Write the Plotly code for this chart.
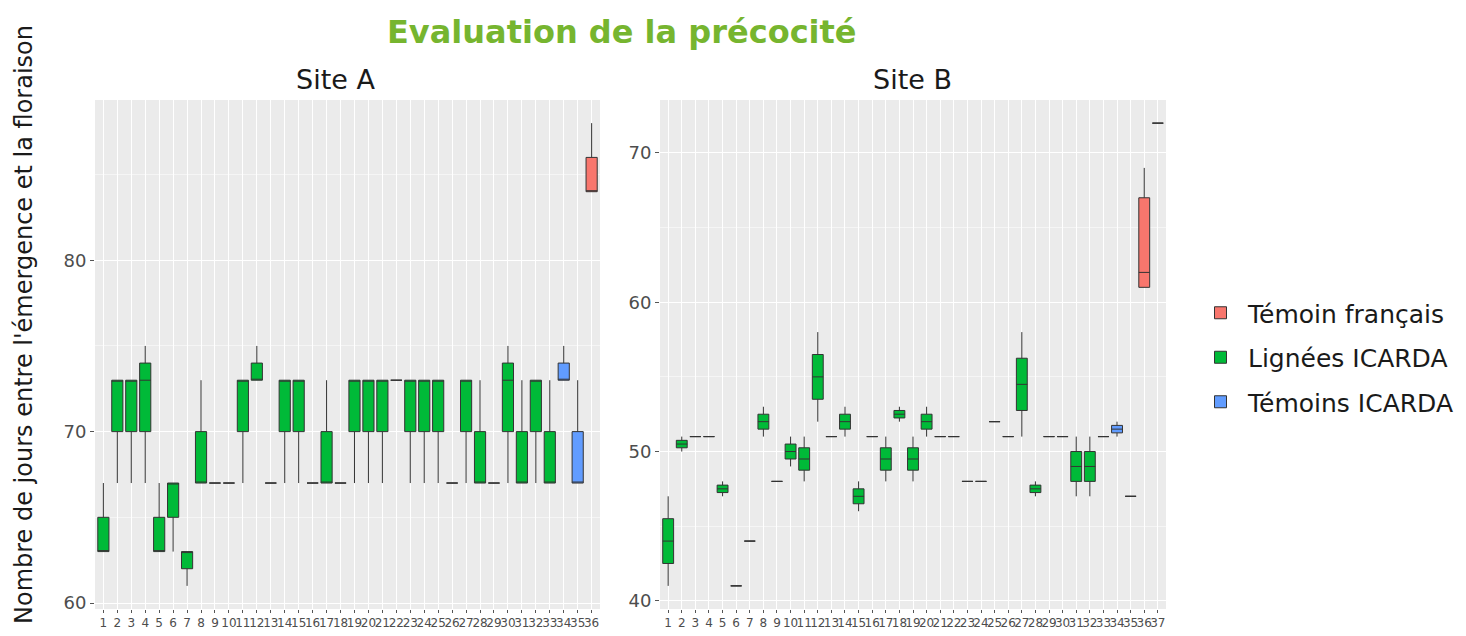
import plotly.graph_objects as go

# ---------------- data ----------------
groups = ["Témoin français", "Lignées ICARDA", "Témoins ICARDA"]
group_colors = {"Témoin français": "#F8766D", "Lignées ICARDA": "#00BA38", "Témoins ICARDA": "#619CFF"}

# Site A (36 lines)
siteA_x = list(range(1, 37))
siteA_group = ["Lignées ICARDA"] * 33 + ["Témoins ICARDA", "Témoins ICARDA", "Témoin français"]
siteA_q1 = [63, 70, 70, 70, 63, 65, 62, 67, 67, 67, 70, 73, 67, 70, 70, 67, 67, 67,
            70, 70, 70, 73, 70, 70, 70, 67, 70, 67, 67, 70, 67, 70, 67, 73, 67, 84]
siteA_med = [63, 73, 73, 73, 63, 67, 63, 67, 67, 67, 73, 73, 67, 73, 73, 67, 67, 67,
             73, 73, 73, 73, 73, 73, 73, 67, 73, 67, 67, 73, 67, 73, 67, 73, 67, 84]
siteA_q3 = [65, 73, 73, 74, 65, 67, 63, 70, 67, 67, 73, 74, 67, 73, 73, 67, 70, 67,
            73, 73, 73, 73, 73, 73, 73, 67, 73, 70, 67, 74, 70, 73, 70, 74, 70, 86]
siteA_lo = [63, 67, 67, 67, 63, 63, 61, 67, 67, 67, 67, 73, 67, 67, 67, 67, 67, 67,
            67, 67, 67, 73, 67, 67, 67, 67, 67, 67, 67, 67, 67, 67, 67, 73, 67, 84]
siteA_hi = [67, 73, 73, 75, 67, 67, 63, 73, 67, 67, 73, 75, 67, 73, 73, 67, 73, 67,
            73, 73, 73, 73, 73, 73, 73, 67, 73, 73, 67, 75, 73, 73, 73, 75, 73, 88]

# Site B (37 lines)
siteB_x = list(range(1, 38))
siteB_group = ["Lignées ICARDA"] * 33 + ["Témoins ICARDA", "Témoins ICARDA", "Témoin français", "Témoin français"]
siteB_q1 = [42.5, 50.25, 51, 51, 47.25, 41, 44, 51.5, 48, 49.5, 48.75, 53.5, 51, 51.5, 46.5, 51, 48.75, 52.25,
            48.75, 51.5, 51, 51, 48, 48, 52, 51, 52.75, 47.25, 51, 51, 48, 48, 51, 51.25, 47, 61, 72]
siteB_med = [44, 50.5, 51, 51, 47.5, 41, 44, 52, 48, 50, 49.5, 55, 51, 52, 47, 51, 49.5, 52.5,
             49.5, 52, 51, 51, 48, 48, 52, 51, 54.5, 47.5, 51, 51, 49, 49, 51, 51.5, 47, 62, 72]
siteB_q3 = [45.5, 50.75, 51, 51, 47.75, 41, 44, 52.5, 48, 50.5, 50.25, 56.5, 51, 52.5, 47.5, 51, 50.25, 52.75,
            50.25, 52.5, 51, 51, 48, 48, 52, 51, 56.25, 47.75, 51, 51, 50, 50, 51, 51.75, 47, 67, 72]
siteB_lo = [41, 50, 51, 51, 47, 41, 44, 51, 48, 49, 48, 52, 51, 51, 46, 51, 48, 52,
            48, 51, 51, 51, 48, 48, 52, 51, 51, 47, 51, 51, 47, 47, 51, 51, 47, 61, 72]
siteB_hi = [47, 51, 51, 51, 48, 41, 44, 53, 48, 51, 51, 58, 51, 53, 48, 51, 51, 53,
            51, 53, 51, 51, 48, 48, 52, 51, 58, 48, 51, 51, 51, 51, 51, 52, 47, 69, 72]

siteA_yticks = [60, 70, 80]
siteA_yminor = [65, 75, 85]
siteB_yticks = [40, 50, 60, 70]
siteB_yminor = [45, 55, 65]

# ---------------- figure ----------------
fig = go.Figure()
W, H = 1466, 636
OFF = 8  # page body margin


def px(x):
    return (x - OFF) / W


def py(y):
    return 1 - (y - OFF) / H


def add_site(xs, grp, q1, med, q3, lo, hi, xaxis, yaxis, show):
    for g in groups:
        idx = [i for i, gg in enumerate(grp) if gg == g]
        if not idx:
            continue
        fig.add_trace(go.Box(
            x=[xs[i] for i in idx],
            q1=[q1[i] for i in idx],
            median=[med[i] for i in idx],
            q3=[q3[i] for i in idx],
            lowerfence=[lo[i] for i in idx],
            upperfence=[hi[i] for i in idx],
            name=g,
            legendgroup=g,
            showlegend=show,
            fillcolor=group_colors[g],
            line=dict(color="#333333", width=1),
            whiskerwidth=0,
            width=0.8,
            boxpoints=False,
            xaxis=xaxis, yaxis=yaxis,
        ))


add_site(siteA_x, siteA_group, siteA_q1, siteA_med, siteA_q3, siteA_lo, siteA_hi, "x", "y", True)
add_site(siteB_x, siteB_group, siteB_q1, siteB_med, siteB_q3, siteB_lo, siteB_hi, "x2", "y2", False)

ydom = [py(609), py(100)]
common_x = dict(showgrid=True, gridcolor="white", gridwidth=1, zeroline=False,
                ticks="outside", ticklen=3, tickcolor="#555555", tickwidth=1, tickangle=0,
                tickfont=dict(family="DejaVu Sans", size=12, color="#4D4D4D"),
                automargin=False, showline=False, fixedrange=True)
common_y = dict(showgrid=True, gridcolor="white", gridwidth=1.2, zeroline=False,
                ticks="outside", ticklen=4, tickcolor="#555555", tickwidth=1,
                tickfont=dict(family="DejaVu Sans", size=18, color="#4D4D4D"),
                automargin=False, showline=False, domain=ydom)

fig.update_layout(
    width=W, height=H,
    margin=dict(l=0, r=0, t=0, b=0),
    paper_bgcolor="white",
    plot_bgcolor="#EBEBEB",
    boxmode="overlay",
    xaxis=dict(domain=[px(95), px(600)], range=[0.4, 36.6], tickmode="array",
               tickvals=siteA_x, ticktext=[str(v) for v in siteA_x], anchor="y", **common_x),
    xaxis2=dict(domain=[px(660), px(1166)], range=[0.4, 37.6], tickmode="array",
                tickvals=siteB_x, ticktext=[str(v) for v in siteB_x], anchor="y2", **common_x),
    yaxis=dict(range=[59.65, 89.35], tickmode="array", tickvals=siteA_yticks, anchor="x",
               minor=dict(tickvals=siteA_yminor, showgrid=True, gridcolor="#F5F5F5", gridwidth=0.6, ticks=""),
               **common_y),
    yaxis2=dict(range=[39.45, 73.55], tickmode="array", tickvals=siteB_yticks, anchor="x2",
                minor=dict(tickvals=siteB_yminor, showgrid=True, gridcolor="#F5F5F5", gridwidth=0.6, ticks=""),
                **common_y),
    legend=dict(x=px(1193), y=py(290), xanchor="left", yanchor="top",
                font=dict(family="DejaVu Sans", size=25, color="#1A1A1A"),
                bgcolor="white", tracegroupgap=9, traceorder="grouped", itemwidth=45),
    showlegend=True,
    annotations=[
        dict(text="<b>Evaluation de la précocité</b>", x=px(622), y=py(32), xref="paper", yref="paper",
             showarrow=False, xanchor="center", yanchor="middle",
             font=dict(family="DejaVu Sans", size=32, color="#76B52F")),
        dict(text="Site A", x=px(335), y=py(80), xref="paper", yref="paper",
             showarrow=False, xanchor="center", yanchor="middle",
             font=dict(family="DejaVu Sans", size=27, color="#1A1A1A")),
        dict(text="Site B", x=px(912), y=py(80), xref="paper", yref="paper",
             showarrow=False, xanchor="center", yanchor="middle",
             font=dict(family="DejaVu Sans", size=27, color="#1A1A1A")),
        dict(text="Nombre de jours entre l'émergence et la floraison", x=px(24), y=py(325),
             xref="paper", yref="paper", showarrow=False, textangle=-90,
             xanchor="center", yanchor="middle",
             font=dict(family="DejaVu Sans", size=24, color="#1A1A1A")),
    ],
)

fig.write_html("out.html")
